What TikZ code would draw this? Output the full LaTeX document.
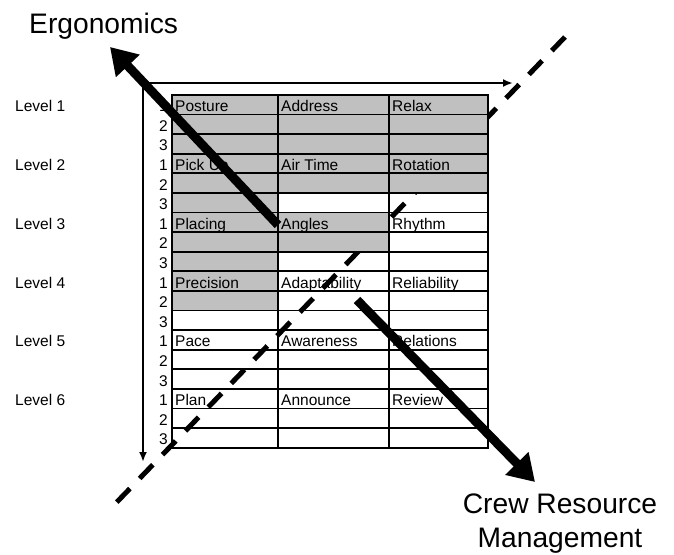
\documentclass[tikz,border=0pt]{standalone}
\usepackage{fontspec}
\setmainfont{Liberation Sans}
\usepackage{xcolor}
\usetikzlibrary{arrows.meta,positioning}
\definecolor{cellgray}{RGB}{192,192,192}

\begin{document}
\begin{tikzpicture}[x=1pt, y=-1pt]
	\tikzstyle{cell} = [rectangle, draw, line width=1.8pt, inner sep=0pt,
	anchor=north west, minimum height=19.6pt]
	\tikzstyle{txt} = [font=\fontsize{15.5}{18}\selectfont, inner sep=0pt,
	text height=14pt, text depth=0pt]
	\tikzstyle{title} = [font=\fontsize{28.2}{34}\selectfont, inner sep=0pt, align=center]
	\tikzstyle{axis} = [draw, line width=2.2pt,
	{Latex[length=10pt,width=8pt]}-{Latex[length=10pt,width=8pt]}]
	\tikzstyle{bigline} = [draw, line width=9pt, -{Triangle[length=26pt,width=31pt]}]
	\tikzstyle{split} = [draw, line width=5pt, dash pattern=on 19pt off 14pt]
	\useasboundingbox (0,0) rectangle (674,554);
	% Diagonal goes first, the shaded cells cover it
	\coordinate (dtop) at (565,37);
	\coordinate (dbot) at (115,504);
	\path [split] (dtop) -- (dbot);
	% Place cells (value = number of shaded columns in that row)
	\foreach \g [count=\r] in {3,3,3,3,3,1,2,2,1,1,1,0,0,0,0,0,0,0} {
		\foreach \c/\w/\x in {1/106/171, 2/111/277, 3/99/388} {
			\ifnum\c>\g \def\cellfill{none}\else\def\cellfill{cellgray}\fi
			\node [cell, fill=\cellfill, minimum width=\w pt] (c-\r-\c) at (\x, 74.4+19.6*\r) {};
		}
	}
	% Levels, row numbers and cell texts
	\coordinate (lvlx) at (15,0);
	\foreach \ta/\tb/\tc [count=\k] in {Posture/Address/Relax, Pick Up/Air Time/Rotation,
		Placing/Angles/Rhythm, Precision/Adaptability/Reliability,
		Pace/Awareness/Relations, Plan/Announce/Review} {
		\pgfmathtruncatemacro\frow{3*\k-2}
		\node [txt, anchor=west] (lvl\k) at (lvlx |- c-\frow-1.west) {Level \k};
		\foreach \n in {1,2,3} {
			\pgfmathtruncatemacro\rr{3*\k-3+\n}
			\node [txt, left=3pt of c-\rr-1] (n-\rr) {\n};
		}
		\node [txt, anchor=west] (t-\k-1) at ([xshift=4pt]c-\frow-1.west) {\ta};
		\node [txt, anchor=west] (t-\k-2) at ([xshift=4pt]c-\frow-2.west) {\tb};
		\node [txt, anchor=west] (t-\k-3) at ([xshift=4pt]c-\frow-3.west) {\tc};
	}
	% Titles
	\node [title, anchor=base west] (ergo) at (29,33) {Ergonomics};
	\node [title, anchor=north] (crm) at (560,494) {Crew Resource\\Management};
	% Axes
	\coordinate (corner) at (143,83);
	\coordinate (xend) at (513,83);
	\coordinate (yend) at (143,462);
	\path [axis] (yend) -- (corner) -- (xend);
	% Big arrows
	\coordinate (etail) at (278,225);
	\coordinate (etip) at (110,47);
	\coordinate (ctail) at (357,300);
	\coordinate (ctip) at (535,482);
	\path [bigline] (etail) -- (etip);
	\path [bigline] (ctail) -- (ctip);
\end{tikzpicture}
\end{document}
